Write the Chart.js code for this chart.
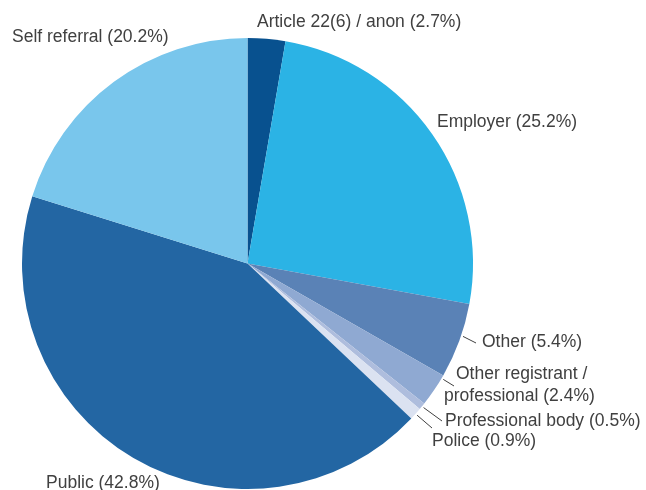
<!DOCTYPE html>
<html>
<head>
<meta charset="utf-8">
<script src="https://cdn.jsdelivr.net/npm/chart.js@4.4.1/dist/chart.umd.min.js"></script>
<style>
  html, body { margin: 0; padding: 0; background: #fff; }
  canvas { display: block; }
</style>
</head>
<body>
<canvas id="pie" width="646" height="490"></canvas>
<script>
const sources = ['Article 22(6) / anon', 'Employer', 'Other', 'Other registrant / professional',
                 'Professional body', 'Police', 'Public', 'Self referral'];
const shares = [2.7, 25.2, 5.4, 2.4, 0.5, 0.9, 42.8, 20.2];
const sliceColors = ['#08518f', '#2bb3e5', '#5a82b6', '#8fa9d2', '#aebddd', '#dbe2f1', '#2366a3', '#79c6ec'];

// where each caption sits; lead = end of the leader line, t = where along the slice it starts
const captions = [
    { x: 257, y: 22, lines: ['Article 22(6) / anon (2.7%)'] },
    { x: 437, y: 122, lines: ['Employer (25.2%)'] },
    { x: 482, y: 342, lines: ['Other (5.4%)'], lead: [476, 343], t: 0.43 },
    { x: 456, y: 374, lines: ['Other registrant /', 'professional (2.4%)'], indent: [0, -12], lead: [454, 386], t: 0.1 },
    { x: 445, y: 421, lines: ['Professional body (0.5%)'], lead: [442, 421], t: 0.5 },
    { x: 432, y: 441, lines: ['Police (0.9%)'], lead: [432, 428], t: 0.5 },
    { x: 46, y: 483, lines: ['Public (42.8%)'] },
    { x: 12, y: 37, lines: ['Self referral (20.2%)'] }
];

const captionPlugin = {
    id: 'captions',
    afterDraw(chart) {
        const ctx = chart.ctx;
        const arcs = chart.getDatasetMeta(0).data;
        ctx.save();
        ctx.font = '17.5px "Liberation Sans", Arial, sans-serif';
        ctx.fillStyle = '#404040';
        ctx.textBaseline = 'middle';
        ctx.strokeStyle = '#404040';
        ctx.lineWidth = 1;
        captions.forEach((c, i) => {
            c.lines.forEach((line, k) => {
                const dx = c.indent ? c.indent[k] : 0;
                ctx.fillText(line, c.x + dx, c.y + k * 22);
            });
            if (c.lead) {
                const a = arcs[i];
                const ang = a.startAngle + (a.endAngle - a.startAngle) * c.t;
                const r = a.outerRadius + 2;
                ctx.beginPath();
                ctx.moveTo(a.x + Math.cos(ang) * r, a.y + Math.sin(ang) * r);
                ctx.lineTo(c.lead[0], c.lead[1]);
                ctx.stroke();
            }
        });
        ctx.restore();
    }
};

new Chart(document.getElementById('pie').getContext('2d'), {
    type: 'pie',
    data: {
        labels: sources,
        datasets: [{
            data: shares,
            backgroundColor: sliceColors,
            borderWidth: 0,
            hoverOffset: 0
        }]
    },
    options: {
        responsive: false,
        animation: false,
        layout: { padding: { top: 38, left: 22, right: 173, bottom: 1 } },
        plugins: {
            legend: { display: false },
            tooltip: { enabled: false }
        }
    },
    plugins: [captionPlugin]
});
</script>
</body>
</html>
